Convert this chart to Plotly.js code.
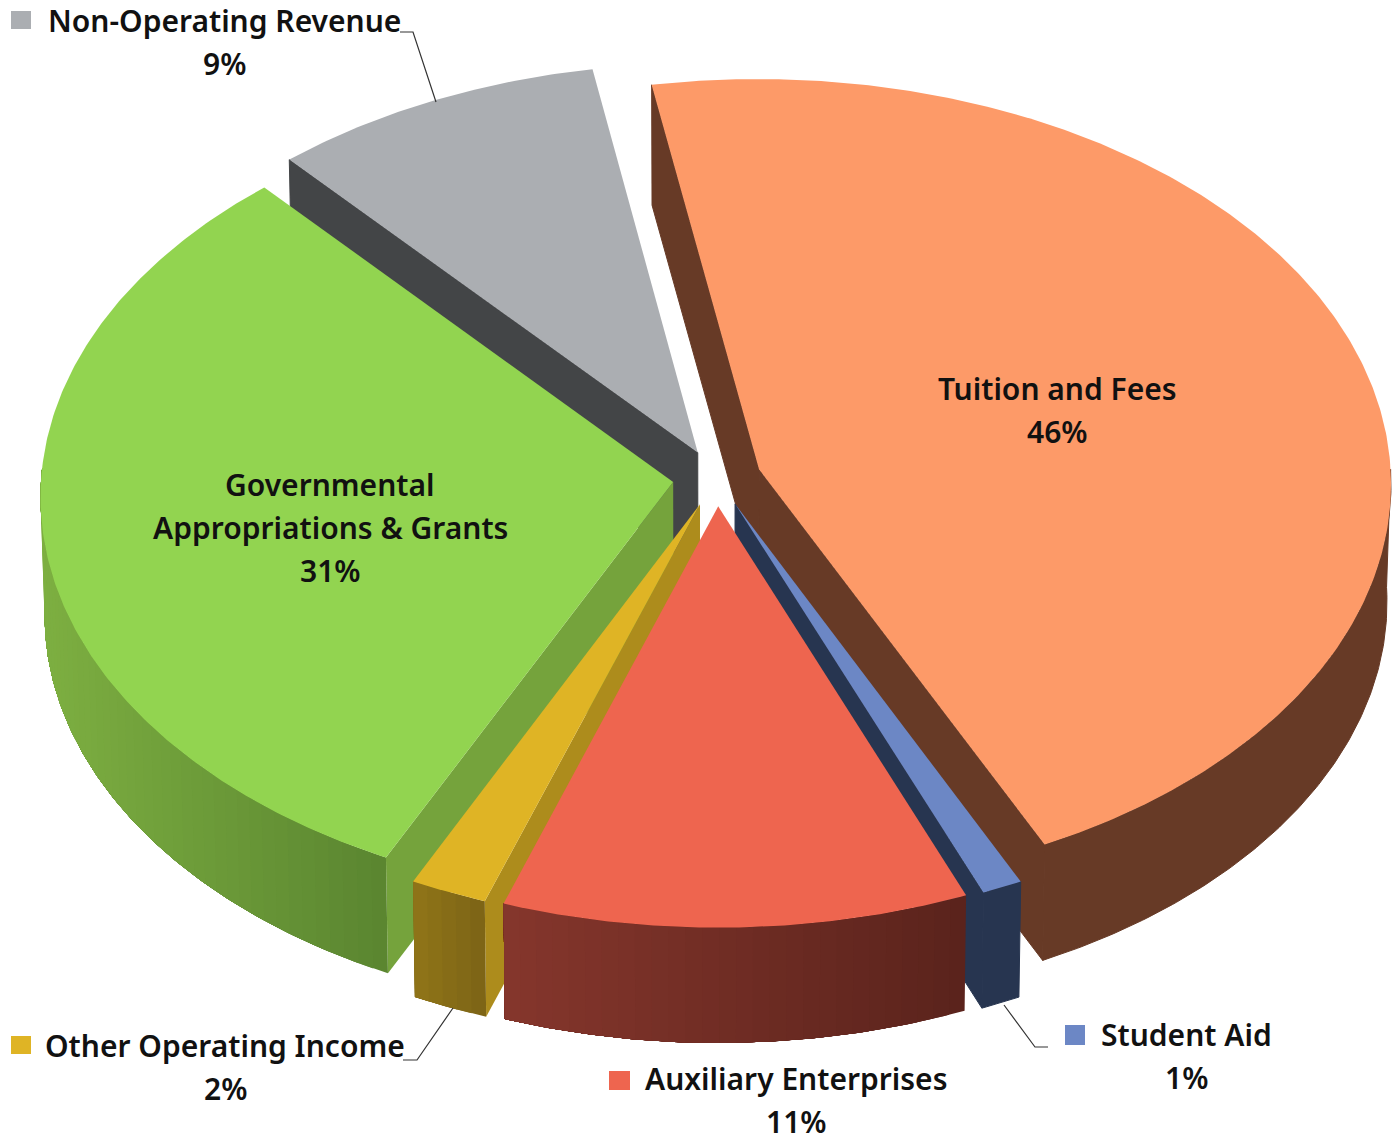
<!DOCTYPE html>
<html><head><meta charset="utf-8">
<script src="https://cdn.plot.ly/plotly-3.0.1.min.js"></script>
<style>html,body{margin:0;padding:0;background:#fff}#c{width:1398px;height:1141px}</style>
</head><body><div id="c"></div>
<script>
const categories = ['Tuition and Fees','Student Aid','Auxiliary Enterprises','Other Operating Income','Governmental<br>Appropriations & Grants','Non-Operating Revenue'];
const values = [45.6,1,11.49,1.9,31.2,8.81];
const topColors = ['#FD9A68','#6C87C5','#EE654F','#DFB425','#92D450','#ABAEB2'];
const faceColors = ['#673A26','#273550','#7A2F26','#AD8C1C','#75A33C','#434547'];
const wallLight = ['#673A26','#273550','#85362C','#907518','#7DAF41','#434547'];
const wallDark = ['#673A26','#273550','#5A231C','#7C6316','#5A8530','#434547'];
const drawOrder = [5,0,4,1,3,2];
const labelX = [1057,1186,796,225,330,224];
const labelY = [388,1034,1078,1045,484,20];
const startAngle = -10, cx = 717, cy = 478, R = 632, squash = 0.64, persp = 0.035, explode = 0.07, depth = 118, bottomScale = 0.994;

function pt(X,Y,low){
  const d = 1 - persp*Y;
  let x = R*X/d, y = R*squash*Y/d;
  if(low){ x*=bottomScale; y = y*bottomScale + depth; }
  return [cx+x, cy+y];
}
const rad = a => a*Math.PI/180;
const total = values.reduce((a,b)=>a+b,0);
let acc = startAngle;
const slices = values.map((v,i)=>{const a0=acc; acc+=v/total*360; return {i,a0,a1:acc};});
function rim(s,a,low){
  const m=rad((s.a0+s.a1)/2);
  return pt(explode*Math.sin(m)+Math.sin(rad(a)), -explode*Math.cos(m)-Math.cos(rad(a)), low);
}
function apex(s,low){
  const m=rad((s.a0+s.a1)/2);
  return pt(explode*Math.sin(m), -explode*Math.cos(m), low);
}
function poly(points,color,edge){
  return {type:'scatter',mode:'lines',x:points.map(p=>p[0]).concat(points[0][0]),y:points.map(p=>p[1]).concat(points[0][1]),
    fill:'toself',fillcolor:color,line:{color:color,width:edge||0},hoverinfo:'skip',showlegend:false};
}
function mix(c1,c2,t){
  const h=c=>[1,3,5].map(j=>parseInt(c.substr(j,2),16));
  const a=h(c1),b=h(c2);
  return 'rgb('+a.map((v,j)=>Math.round(v+(b[j]-v)*t)).join(',')+')';
}
function band(s,a,b){
  const up=[],down=[];
  const n=Math.max(1,Math.ceil((b-a)*2));
  for(let j=0;j<=n;j++){
    const q=a+(b-a)*j/n;
    up.push(rim(s,q,false)); down.unshift(rim(s,q,true));
  }
  return up.concat(down);
}
const traces=[];
drawOrder.forEach(k=>{
  const s=slices[k];
  const flat=wallLight[k]===wallDark[k];
  const face=a=>[apex(s,false),rim(s,a,false),rim(s,a,true),apex(s,true)];
  if(Math.sin(rad(s.a0))<0) traces.push(poly(face(s.a0),faceColors[k],flat?1:0));
  if(Math.sin(rad(s.a1))>0) traces.push(poly(face(s.a1),faceColors[k],flat?1:0));
  const from=Math.max(s.a0,90), to=Math.min(s.a1,272);
  if(to>from){
    if(flat){
      traces.push(poly(band(s,from,to),wallLight[k],1));
    } else {
      const n=Math.max(2,Math.ceil((to-from)/1.5));
      const xa=rim(s,from,false)[0], xb=rim(s,to,false)[0];
      const lo=Math.min(xa,xb), hi=Math.max(xa,xb);
      for(let j=0;j<n;j++){
        const a=from+(to-from)*j/n, b=to;
        const xm=rim(s,from+(to-from)*(j+0.5)/n,false)[0];
        traces.push(poly(band(s,a,b),mix(wallLight[k],wallDark[k],(xm-lo)/(hi-lo))));
      }
    }
  }
  const top=[apex(s,false)];
  const steps=Math.ceil((s.a1-s.a0)*2);
  for(let j=0;j<=steps;j++) top.push(rim(s,s.a0+(s.a1-s.a0)*j/steps,false));
  traces.push(poly(top,topColors[k]));
});
const font={family:'"Noto Sans", sans-serif',size:30,color:'#111',weight:600};
const lineGap=43;
const annotations=[];
categories.forEach((c,i)=>{
  const lines=c.split('<br>').concat(Math.round(values[i])+'%');
  lines.forEach((t,j)=>annotations.push({x:labelX[i],y:labelY[i]+j*lineGap,xref:'x',yref:'y',text:t,showarrow:false,font:font,xanchor:'center',yanchor:'middle',borderpad:0}));
});
const leader=(d)=>({type:'path',path:d,line:{color:'#333',width:1.2},xref:'x',yref:'y'});
const key=(x0,y0,x1,y1,c)=>({type:'rect',x0,y0,x1,y1,xref:'x',yref:'y',fillcolor:c,line:{width:0}});
const shapes=[
  leader('M400,32 L413,32 L436,102'),
  leader('M403,1060 L417,1060 L453,1008'),
  leader('M1048,1047 L1035,1047 L1004,1005'),
  key(11,11,31,29,topColors[5]),
  key(11,1036,31,1054,topColors[3]),
  key(1065,1025,1085,1045,topColors[1]),
  key(609,1071,630,1090,topColors[2])
];
const axis={visible:false,fixedrange:true,showgrid:false,zeroline:false};
Plotly.newPlot('c',traces,{
  width:1398,height:1141,margin:{l:0,r:0,t:0,b:0},paper_bgcolor:'#fff',plot_bgcolor:'#fff',showlegend:false,
  xaxis:Object.assign({range:[0,1398]},axis),
  yaxis:Object.assign({range:[1141,0]},axis),
  annotations,shapes
},{staticPlot:true,displayModeBar:false});
</script></body></html>
